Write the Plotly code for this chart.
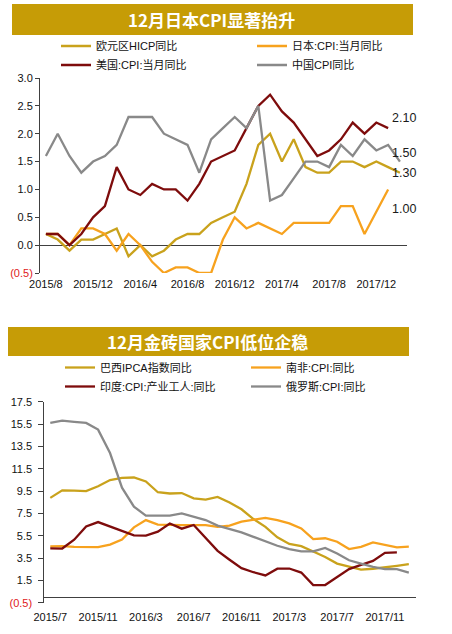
import plotly.graph_objects as go

W, H = 452, 634

# ---------------- data: top chart ----------------
top_months = ["2015/8", "2015/9", "2015/10", "2015/11", "2015/12",
              "2016/1", "2016/2", "2016/3", "2016/4", "2016/5", "2016/6",
              "2016/7", "2016/8", "2016/9", "2016/10", "2016/11", "2016/12",
              "2017/1", "2017/2", "2017/3", "2017/4", "2017/5", "2017/6",
              "2017/7", "2017/8", "2017/9", "2017/10", "2017/11", "2017/12",
              "2018/1", "2018/2"]
top_ticks = ["2015/8", "2015/12", "2016/4", "2016/8", "2016/12", "2017/4", "2017/8", "2017/12"]

euro_hicp = [0.2, 0.1, -0.1, 0.1, 0.1, 0.2, 0.3, -0.2, 0.0, -0.2, -0.1, 0.1, 0.2, 0.2, 0.4, 0.5,
             0.6, 1.1, 1.8, 2.0, 1.5, 1.9, 1.4, 1.3, 1.3, 1.5, 1.5, 1.4, 1.5, 1.4, 1.3]
japan_cpi = [0.2, 0.2, 0.0, 0.3, 0.3, 0.2, -0.1, 0.2, 0.0, -0.3, -0.5, -0.4, -0.4, -0.5, -0.5, 0.1,
             0.5, 0.3, 0.4, 0.3, 0.2, 0.4, 0.4, 0.4, 0.4, 0.7, 0.7, 0.2, 0.6, 1.0]
us_cpi = [0.2, 0.2, 0.0, 0.2, 0.5, 0.7, 1.4, 1.0, 0.9, 1.1, 1.0, 1.0, 0.8, 1.1, 1.5, 1.6,
          1.7, 2.1, 2.5, 2.7, 2.4, 2.2, 1.9, 1.6, 1.7, 1.9, 2.2, 2.0, 2.2, 2.1]
china_cpi = [1.6, 2.0, 1.6, 1.3, 1.5, 1.6, 1.8, 2.3, 2.3, 2.3, 2.0, 1.9, 1.8, 1.3, 1.9, 2.1,
             2.3, 2.1, 2.5, 0.8, 0.9, 1.2, 1.5, 1.5, 1.4, 1.8, 1.6, 1.9, 1.7, 1.8, 1.5]
top_yticks = [-0.5, 0.0, 0.5, 1.0, 1.5, 2.0, 2.5, 3.0]

# ---------------- data: bottom chart ----------------
bot_months = ["2015/7", "2015/8", "2015/9", "2015/10", "2015/11", "2015/12",
              "2016/1", "2016/2", "2016/3", "2016/4", "2016/5", "2016/6",
              "2016/7", "2016/8", "2016/9", "2016/10", "2016/11", "2016/12",
              "2017/1", "2017/2", "2017/3", "2017/4", "2017/5", "2017/6",
              "2017/7", "2017/8", "2017/9", "2017/10", "2017/11", "2017/12",
              "2018/1"]
bot_ticks = ["2015/7", "2015/11", "2016/3", "2016/7", "2016/11", "2017/3", "2017/7", "2017/11"]

brazil_ipca = [8.89, 9.56, 9.53, 9.49, 9.93, 10.48, 10.67, 10.71, 10.36, 9.39, 9.28, 9.32, 8.84,
               8.74, 8.97, 8.48, 7.87, 6.99, 6.29, 5.35, 4.76, 4.57, 4.08, 3.60, 3.00, 2.71,
               2.46, 2.54, 2.70, 2.80, 2.95]
south_africa_cpi = [4.55, 4.56, 4.5, 4.5, 4.47, 4.7, 5.15, 6.25, 6.9, 6.5, 6.45, 6.45, 6.45,
                    6.45, 6.3, 6.4, 6.75, 6.95, 7.1, 6.9, 6.6, 6.15, 5.2, 5.27, 4.96, 4.3,
                    4.5, 4.9, 4.67, 4.46, 4.52]
india_cpi_iw = [4.37, 4.35, 5.14, 6.32, 6.72, 6.32, 5.91, 5.53, 5.51, 5.86, 6.59, 6.13, 6.46,
                5.30, 4.14, 3.35, 2.59, 2.23, 1.94, 2.55, 2.56, 2.2, 1.08, 1.08, 1.79, 2.51,
                2.89, 3.24, 3.97, 4.00]
russia_cpi = [15.6, 15.8, 15.7, 15.6, 15.0, 12.9, 9.8, 8.1, 7.3, 7.3, 7.3, 7.5, 7.2, 6.9, 6.4,
              6.1, 5.8, 5.4, 5.0, 4.6, 4.3, 4.1, 4.1, 4.4, 3.9, 3.3, 3.0, 2.7, 2.5, 2.5, 2.2]
bot_yticks = [-0.5, 1.5, 3.5, 5.5, 7.5, 9.5, 11.5, 13.5, 15.5, 17.5]

# ---------------- styles ----------------
GOLD = "#C9A21C"
ORANGE = "#F7A21E"
DARKRED = "#7E0C0C"
GRAY = "#898989"
BANNER = "#C69C06"
AXIS = "#404040"
LATIN = "Liberation Sans, Arial, Noto Sans CJK SC, sans-serif"
CJK = "Noto Sans CJK SC, sans-serif"
LW = 2.3


def px_x(p):
    return p / W


def px_y(p):
    return 1 - p / H


def tick_text(vals):
    out = []
    for v in vals:
        if v < 0:
            out.append('<span style="color:#E0201B">(%.1f)</span>' % abs(v))
        else:
            out.append("%.1f" % v)
    return out


fig = go.Figure()

top_series = [("欧元区HICP同比", euro_hicp, GOLD),
              ("日本:CPI:当月同比", japan_cpi, ORANGE),
              ("美国:CPI:当月同比", us_cpi, DARKRED),
              ("中国CPI同比", china_cpi, GRAY)]
for name, vals, col in top_series:
    fig.add_trace(go.Scatter(x=top_months[:len(vals)], y=vals, name=name, mode="lines",
                             line=dict(color=col, width=LW), xaxis="x", yaxis="y",
                             legend="legend"))

bot_series = [("巴西IPCA指数同比", brazil_ipca, GOLD),
              ("南非:CPI:同比", south_africa_cpi, ORANGE),
              ("印度:CPI:产业工人:同比", india_cpi_iw, DARKRED),
              ("俄罗斯:CPI:同比", russia_cpi, GRAY)]
for name, vals, col in bot_series:
    fig.add_trace(go.Scatter(x=bot_months[:len(vals)], y=vals, name=name, mode="lines",
                             line=dict(color=col, width=LW), xaxis="x2", yaxis="y2",
                             legend="legend2"))

# end-of-series value labels on the top chart
label_specs = [(us_cpi, 10), (china_cpi, 9), (euro_hicp, 0), (japan_cpi, -20)]
for vals, ys in label_specs:
    fig.add_annotation(x=top_months[29], y=vals[-1], xref="x", yref="y",
                       text="%.2f" % vals[-1], showarrow=False, xanchor="left",
                       yanchor="middle", xshift=2, yshift=ys,
                       font=dict(family=LATIN, size=12.5, color="#1a1a1a"))

# title banners
banners = [((12, 4, 413, 35), "12月日本CPI显著抬升"),
           ((8, 327, 409, 356), "12月金砖国家CPI低位企稳")]
for (x0, y0, x1, y1), txt in banners:
    fig.add_shape(type="rect", xref="paper", yref="paper",
                  x0=px_x(x0), x1=px_x(x1), y0=px_y(y1), y1=px_y(y0),
                  fillcolor=BANNER, line=dict(width=0), layer="below")
    fig.add_annotation(xref="paper", yref="paper", x=px_x((x0 + x1) / 2 - 1),
                       y=px_y((y0 + y1) / 2), text="<b>%s</b>" % txt, showarrow=False,
                       xanchor="center", yanchor="middle",
                       font=dict(family=CJK, size=17, color="white"))

xcommon = dict(type="category", range=[-0.5, 30.6], showline=False, showgrid=False,
               zeroline=False, ticks="", tickfont=dict(family=LATIN, size=11, color="#111"),
               fixedrange=True, automargin=False)
ycommon = dict(showline=True, linecolor=AXIS, linewidth=1, ticks="outside", tickcolor=AXIS,
               tickwidth=1, showgrid=False, zeroline=True, zerolinecolor=AXIS,
               zerolinewidth=1, tickfont=dict(family=LATIN, size=11, color="#111"),
               fixedrange=True, automargin=False)

fig.update_layout(
    width=W, height=H, margin=dict(l=0, r=0, t=0, b=0, autoexpand=False),
    paper_bgcolor="white", plot_bgcolor="white", showlegend=True,
    xaxis=dict(xcommon, domain=[px_x(40), px_x(407)], anchor="y",
               tickvals=top_ticks, ticktext=top_ticks, ticklabelstandoff=3),
    yaxis=dict(ycommon, domain=[px_y(273), px_y(78)], anchor="x", range=[-0.5, 3.0],
               tickvals=top_yticks, ticktext=tick_text(top_yticks), ticklen=4),
    xaxis2=dict(xcommon, domain=[px_x(44.3), px_x(416)], anchor="y2",
                tickvals=bot_ticks, ticktext=bot_ticks, ticklabelstandoff=6),
    yaxis2=dict(ycommon, domain=[px_y(602.7), px_y(401.7)], anchor="x2", range=[-0.5, 17.5],
                tickvals=bot_yticks, ticktext=tick_text(bot_yticks), ticklen=5,
                ticklabelstandoff=4),
    legend=dict(orientation="h", x=px_x(56), y=px_y(31.5), xanchor="left", yanchor="top",
                entrywidth=151, entrywidthmode="pixels", bgcolor="rgba(0,0,0,0)",
                borderwidth=0, itemwidth=30, tracegroupgap=0,
                font=dict(family=LATIN, size=11, color="#111")),
    legend2=dict(orientation="h", x=px_x(60), y=px_y(353), xanchor="left", yanchor="top",
                 entrywidth=141, entrywidthmode="pixels", bgcolor="rgba(0,0,0,0)",
                 borderwidth=0, itemwidth=30, tracegroupgap=0,
                 font=dict(family=LATIN, size=11, color="#111")),
)

fig.write_html("out.html", config={"displayModeBar": False},
               post_script="document.body.style.margin='0';document.body.style.overflow='hidden';")
